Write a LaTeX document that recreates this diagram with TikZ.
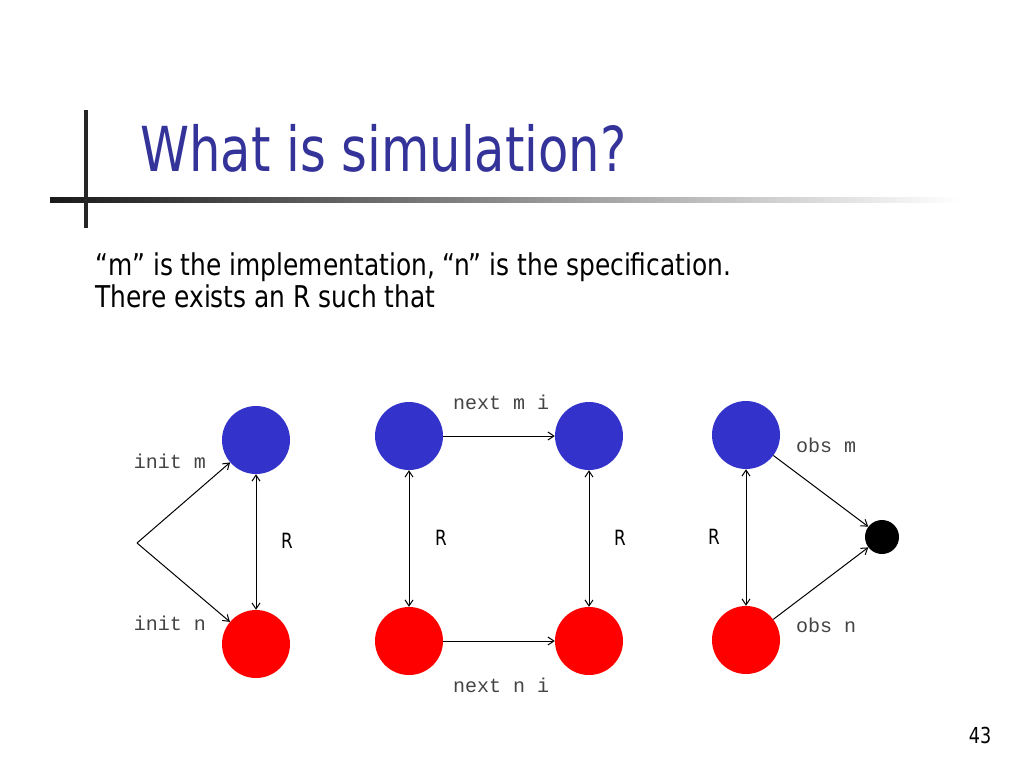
\documentclass[tikz,border=0pt]{standalone}
\usepackage{fontspec}
\setmainfont{DejaVu Sans}
\newfontfamily\slidefont[FakeStretch=0.8]{DejaVu Sans}
\newfontfamily\bodyfont[FakeStretch=0.83]{DejaVu Sans}
\newfontfamily\codefont{Liberation Mono}
\usetikzlibrary{arrows.meta}
\definecolor{titleblue}{HTML}{333399}
\definecolor{mblue}{HTML}{3333CC}
\definecolor{labelgray}{HTML}{444444}
\begin{document}
\begin{tikzpicture}[x=1pt,y=-1pt,
  mstate/.style={circle,fill=mblue,minimum size=68pt,inner sep=0pt},
  nstate/.style={circle,fill=red,minimum size=68pt,inner sep=0pt},
  obsdot/.style={circle,fill=black,minimum size=34pt,inner sep=0pt},
  lbl/.style={font=\codefont\fontsize{20}{20}\selectfont,text=labelgray,inner sep=0pt},
  rel/.style={font=\slidefont\fontsize{21}{21}\selectfont,inner sep=0pt},
  arr/.style={-{Straight Barb[length=6pt,width=8pt]},line width=1pt},
  dbl/.style={{Straight Barb[length=6pt,width=8pt]}-{Straight Barb[length=6pt,width=8pt]},line width=1pt}]
\useasboundingbox (0,0) rectangle (1024,768);
\fill[white] (0,0) rectangle (1024,768);
\shade[left color=black!90,right color=white] (50,197.5) rectangle (960,202.5);
\fill[black!85] (84,110) rectangle (88,228);
\node[anchor=base west,inner sep=0pt,text=titleblue,font=\slidefont\fontsize{62}{62}\selectfont] (title) at (140,171) {What is simulation?};
\node[anchor=base west,inner sep=0pt,font=\bodyfont\fontsize{30}{30}\selectfont] (line1) at (95,275) {“m” is the implementation, “n” is the specification.};
\node[anchor=base west,inner sep=0pt,font=\bodyfont\fontsize{30}{30}\selectfont] (line2) at (95,307) {There exists an R such that};
\node[mstate] (m0) at (256,440) {};
\node[nstate] (n0) at (256,644) {};
\coordinate (init) at (137,543);
\node[mstate] (m1) at (409,436) {};
\node[mstate] (m2) at (589,436) {};
\node[nstate] (n1) at (409,641) {};
\node[nstate] (n2) at (589,641) {};
\node[mstate] (m3) at (746,435) {};
\node[nstate] (n3) at (746,640) {};
\node[obsdot] (obs) at (882,537) {};
\draw[arr] (init) -- (m0);
\draw[arr] (init) -- (n0);
\draw[arr] (m1) -- (m2);
\draw[arr] (n1) -- (n2);
\draw[arr] (m3) -- (obs);
\draw[arr] (n3) -- (obs);
\foreach \a/\b in {m0/n0,m1/n1,m2/n2,m3/n3}{\draw[dbl] (\a) -- (\b);}
\node[lbl] (initm) at (170,461) {init m};
\node[lbl] (initn) at (170,623) {init n};
\node[lbl] (nextm) at (501,402) {next m i};
\node[lbl] (nextn) at (501,685) {next n i};
\node[lbl] (obsm) at (826,445) {obs m};
\node[lbl] (obsn) at (826,625) {obs n};
\node[rel] (r0) at (287,541) {R};
\node[rel] (r1) at (441,538) {R};
\node[rel] (r2) at (620,538) {R};
\node[rel] (r3) at (714,537) {R};
\node[font=\slidefont\fontsize{22}{22}\selectfont] (pagenum) at (980,735) {43};
\end{tikzpicture}
\end{document}
